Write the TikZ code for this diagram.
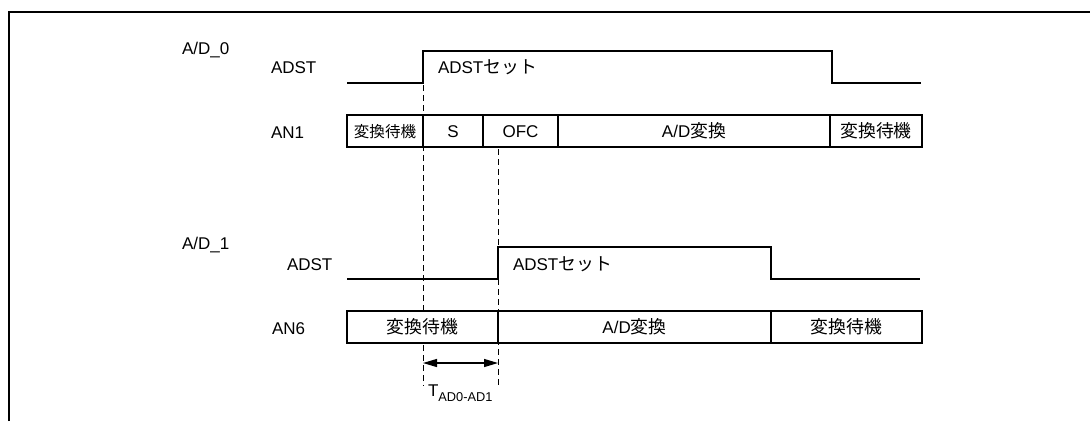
\documentclass[tikz,border=0pt]{standalone}
\usepackage{fontspec}
\setmainfont{Liberation Sans}
\newfontfamily\jpfont{Noto Sans CJK JP}[Scale=1.05]
\usetikzlibrary{arrows.meta,positioning}

\begin{document}
\begin{tikzpicture}[
  x=1pt,y=-1pt,
  font=\fontsize{17}{20}\selectfont,
  node distance=0pt,
  cell/.style={draw,fill=white,line width=2.4pt,outer sep=0pt,inner sep=0pt,minimum height=32pt,text height=12pt,text depth=0pt},
  lbl/.style={anchor=base west,inner sep=0pt,outer sep=0pt},
  sig/.style={line width=2.4pt,line join=miter},
  guide/.style={line width=0.9pt,dash pattern=on 6pt off 4pt},
  span/.style={{Triangle[length=14pt,width=8pt]}-{Triangle[length=14pt,width=8pt]},line width=1.2pt}
]
\useasboundingbox (0,0) rectangle (1090,421);
\draw[line width=2.5pt] (9,421) -- (9,12) -- (1090,12);

% delay guides (drawn first, the cells cover them)
\coordinate (g0top) at (423,85);
\coordinate (g0bot) at (423,386);
\coordinate (g1top) at (498,149);
\coordinate (g1bot) at (498,386);
\draw[guide] (g0top) -- (g0bot);
\draw[guide] (g1top) -- (g1bot);

% A/D_0
\node[lbl] (ad0) at (182,54) {A/D\_0};
\node[lbl] (adst0) at (271,73) {ADST};
\node[lbl] (set0) at (438,73) {ADST{\jpfont セット}};
\node[lbl] (an1) at (271,138) {AN1};
\draw[sig] (347,83) -- (423,83) -- (423,51) -- (832,51) -- (832,83) -- (921,83);
\node[cell,minimum width=76pt,anchor=west,font=\fontsize{14.8}{17}\selectfont] (an1wait) at (347,131) {\jpfont 変換待機};
\node[cell,minimum width=60pt,right=of an1wait] (an1s) {S};
\node[cell,minimum width=75pt,right=of an1s] (an1ofc) {OFC};
\node[cell,minimum width=272pt,right=of an1ofc] (an1conv) {A/D{\jpfont 変換}};
\node[cell,minimum width=92pt,right=of an1conv] (an1idle) {\jpfont 変換待機};

% A/D_1
\node[lbl] (ad1) at (182,249) {A/D\_1};
\node[lbl] (adst1) at (287,270) {ADST};
\node[lbl] (set1) at (513,270) {ADST{\jpfont セット}};
\node[lbl] (an6) at (272,334) {AN6};
\draw[sig] (347,279) -- (498,279) -- (498,247) -- (771,247) -- (771,279) -- (920,279);
\node[cell,minimum width=151pt,anchor=west] (an6wait) at (347,327) {\jpfont 変換待機};
\node[cell,minimum width=273pt,right=of an6wait] (an6conv) {A/D{\jpfont 変換}};
\node[cell,minimum width=151pt,right=of an6conv] (an6idle) {\jpfont 変換待機};

% delay arrow
\coordinate (tl) at (423,363);
\coordinate (tr) at (498,363);
\draw[span] (tl) -- (tr);
\node[lbl] (tdelay) at (428,396) {T\raisebox{-5pt}{\fontsize{12.8}{14}\selectfont AD0-AD1}};
\end{tikzpicture}
\end{document}
